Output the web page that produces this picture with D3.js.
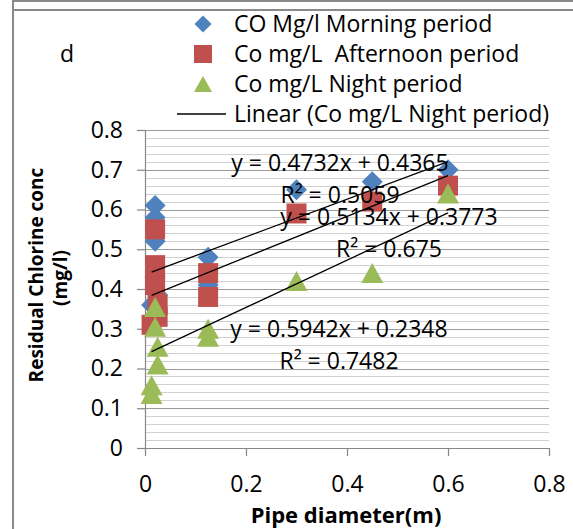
<!DOCTYPE html>
<html>
<head>
<meta charset="utf-8">
<script src="https://cdn.jsdelivr.net/npm/d3@7"></script>
<style>
  body { margin: 0; background: #fff; }
  text { font-family: "Open Sans", sans-serif; fill: #000; }
</style>
</head>
<body>
<script>
// Data
const seriesNames = ["CO Mg/l Morning period", "Co mg/L  Afternoon period", "Co mg/L Night period"];
const trendName = "Linear (Co mg/L Night period)";

const morningX = [0.02, 0.02, 0.02, 0.02, 0.025, 0.013, 0.125, 0.125, 0.3, 0.45, 0.6];
const morningY = [0.61, 0.58, 0.52, 0.43, 0.385, 0.36, 0.48, 0.41, 0.65, 0.67, 0.70];

const afternoonX = [0.02, 0.02, 0.02, 0.025, 0.025, 0.013, 0.125, 0.125, 0.3, 0.45, 0.6];
const afternoonY = [0.55, 0.46, 0.41, 0.36, 0.33, 0.31, 0.44, 0.38, 0.59, 0.62, 0.66];

const nightX = [0.02, 0.02, 0.025, 0.025, 0.013, 0.013, 0.125, 0.125, 0.3, 0.45, 0.6];
const nightY = [0.355, 0.305, 0.255, 0.21, 0.158, 0.136, 0.30, 0.28, 0.42, 0.44, 0.64];

const trendSlope = [0.4732, 0.5134, 0.5942];
const trendIntercept = [0.4365, 0.3773, 0.2348];
const trendR2 = ["0.5059", "0.675", "0.7482"];

const xTicks = [0, 0.2, 0.4, 0.6, 0.8];
const yTicks = [0, 0.1, 0.2, 0.3, 0.4, 0.5, 0.6, 0.7, 0.8];

const colors = ["#4F81BD", "#C0504D", "#9BBB59"];

// Canvas
const W = 573, H = 529;
const svg = d3.select("body").append("svg")
    .attr("width", W)
    .attr("height", H);

// Frame of the chart (and the bottom edge of the box above it)
svg.append("line").attr("x1", 13).attr("x2", W).attr("y1", 1).attr("y2", 1)
    .style("stroke", "#8a8a8a").style("stroke-width", 2);
svg.append("line").attr("x1", 13).attr("x2", W).attr("y1", 10).attr("y2", 10)
    .style("stroke", "#8a8a8a").style("stroke-width", 2);
svg.append("line").attr("x1", 13).attr("x2", 13).attr("y1", 0).attr("y2", H)
    .style("stroke", "#8a8a8a").style("stroke-width", 2);

// Scales
const xScale = d3.scaleLinear().domain([0, 0.8]).range([145, 549]);
const yScale = d3.scaleLinear().domain([0, 0.8]).range([448, 130]);

// Gridlines: minor every 0.02, major every 0.1
const gridVals = d3.range(1, 41).map(i => i * 0.02);
svg.append("g").selectAll("line")
    .data(gridVals)
    .enter()
    .append("line")
    .attr("x1", xScale(0))
    .attr("x2", xScale(0.8))
    .attr("y1", d => Math.round(yScale(d)) + 0.5)
    .attr("y2", d => Math.round(yScale(d)) + 0.5)
    .style("stroke", (d, i) => (i + 1) % 5 === 0 ? "#9a9a9a" : "#d0d0d0")
    .style("stroke-width", 1.2);

// Axes
const fmt = d => d === 0 ? "0" : d.toFixed(1);
const yAxis = svg.append("g")
    .attr("transform", `translate(${xScale(0)},0)`)
    .call(d3.axisLeft(yScale).tickValues(yTicks).tickSize(8).tickSizeOuter(0).tickPadding(14).tickFormat(fmt));
const xAxis = svg.append("g")
    .attr("transform", `translate(0,${yScale(0)})`)
    .call(d3.axisBottom(xScale).tickValues(xTicks).tickSize(8).tickSizeOuter(0).tickPadding(20).tickFormat(fmt));
[xAxis, yAxis].forEach(ax => {
    ax.select(".domain").style("stroke", "#868686").style("stroke-width", 1.2);
    ax.selectAll(".tick line").style("stroke", "#868686").style("stroke-width", 1.2);
    ax.selectAll(".tick text")
        .style("font-family", "'Open Sans', sans-serif")
        .style("font-size", "23px")
        .style("fill", "#000");
});

// Marker shapes
const diamond = s => `M0,${-s}L${s},0L0,${s}L${-s},0Z`;
const square = s => `M${-s},${-s}H${s}V${s}H${-s}Z`;
const triangle = s => `M0,${-s}L${s + 1},${s}L${-s - 1},${s}Z`;
const shapes = [diamond(10.5), square(10), triangle(10)];

const seriesX = [morningX, afternoonX, nightX];
const seriesY = [morningY, afternoonY, nightY];

seriesX.forEach((xs, k) => {
    const pts = xs.map((x, i) => ({ x: x, y: seriesY[k][i] }));
    svg.append("g").selectAll("path")
        .data(pts)
        .enter()
        .append("path")
        .attr("d", shapes[k])
        .attr("transform", d => `translate(${xScale(d.x)},${yScale(d.y)})`)
        .style("fill", colors[k]);
});

// Linear trendlines over each series' x range
seriesX.forEach((xs, k) => {
    const [x0, x1] = d3.extent(xs);
    svg.append("line")
        .attr("x1", xScale(x0))
        .attr("x2", xScale(x1))
        .attr("y1", yScale(trendIntercept[k] + trendSlope[k] * x0))
        .attr("y2", yScale(trendIntercept[k] + trendSlope[k] * x1))
        .style("stroke", "#000")
        .style("stroke-width", 1.3);
});

// Trendline equation labels (centre x, baseline of equation, baseline of R²)
const eqPos = [[340, 171, 203], [389, 225, 257], [339, 337, 369]];
trendSlope.forEach((m, k) => {
    svg.append("text")
        .attr("x", eqPos[k][0])
        .attr("y", eqPos[k][1])
        .style("text-anchor", "middle")
        .style("font-size", "23px")
        .text(`y = ${m}x + ${trendIntercept[k]}`);
    svg.append("text")
        .attr("x", eqPos[k][0])
        .attr("y", eqPos[k][2])
        .style("text-anchor", "middle")
        .style("font-size", "23px")
        .text(`R² = ${trendR2[k]}`);
});

// Legend
const legendY = [24, 54, 84, 114];
seriesNames.forEach((name, k) => {
    svg.append("path")
        .attr("d", k === 0 ? diamond(8.5) : k === 1 ? square(9) : triangle(8))
        .attr("transform", `translate(203,${legendY[k]})`)
        .style("fill", colors[k]);
    svg.append("text")
        .attr("x", 234)
        .attr("y", legendY[k] + 8)
        .style("font-size", "23px")
        .style("white-space", "pre")
        .attr("xml:space", "preserve")
        .text(name);
});
svg.append("line")
    .attr("x1", 177).attr("x2", 226)
    .attr("y1", legendY[3]).attr("y2", legendY[3])
    .style("stroke", "#000").style("stroke-width", 1.3);
svg.append("text")
    .attr("x", 234)
    .attr("y", legendY[3] + 8)
    .style("font-size", "23px")
    .text(trendName);

// Panel letter
svg.append("text")
    .attr("x", 60)
    .attr("y", 62)
    .style("font-size", "23px")
    .text("d");

// Axis titles
svg.append("text")
    .attr("transform", "translate(43,275) rotate(-90)")
    .style("text-anchor", "middle")
    .style("font-size", "19px")
    .style("font-weight", "bold")
    .text("Residual Chlorine conc");
svg.append("text")
    .attr("transform", "translate(67,278) rotate(-90)")
    .style("text-anchor", "middle")
    .style("font-size", "19px")
    .style("font-weight", "bold")
    .text("(mg/l)");
svg.append("text")
    .attr("x", 346)
    .attr("y", 523)
    .style("text-anchor", "middle")
    .style("font-size", "22px")
    .style("font-weight", "bold")
    .text("Pipe diameter(m)");
</script>
</body>
</html>
